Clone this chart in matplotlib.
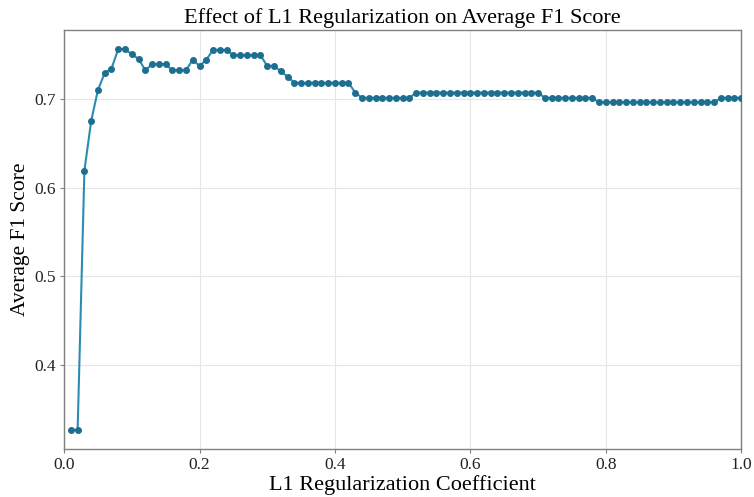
import matplotlib
matplotlib.use("Agg")
import matplotlib.pyplot as plt
import numpy as np

plt.rcParams['font.family'] = ['Liberation Serif', 'DejaVu Serif']

l1_coef = [round(0.01 * i, 2) for i in range(1, 101)]
avg_f1 = [
    0.327, 0.327, 0.619, 0.675, 0.710, 0.729, 0.734, 0.756, 0.756, 0.750,
    0.745, 0.732, 0.739, 0.739, 0.739, 0.732, 0.732, 0.732, 0.744, 0.737,
    0.744, 0.755, 0.755, 0.755, 0.749, 0.749, 0.749, 0.749, 0.749, 0.737,
    0.737, 0.731, 0.725, 0.718, 0.718, 0.718, 0.718, 0.718, 0.718, 0.718,
    0.718, 0.718, 0.707, 0.701, 0.701, 0.701, 0.701, 0.701, 0.701, 0.701,
    0.701, 0.707, 0.707, 0.707, 0.707, 0.707, 0.707, 0.707, 0.707, 0.707,
    0.707, 0.707, 0.707, 0.707, 0.707, 0.707, 0.707, 0.707, 0.707, 0.707,
    0.701, 0.701, 0.701, 0.701, 0.701, 0.701, 0.701, 0.701, 0.696, 0.696,
    0.696, 0.696, 0.696, 0.696, 0.696, 0.696, 0.696, 0.696, 0.696, 0.696,
    0.696, 0.696, 0.696, 0.696, 0.696, 0.696, 0.701, 0.701, 0.701, 0.701,
]

title = "Effect of L1 Regularization on Average F1 Score"
xlabel = "L1 Regularization Coefficient"
ylabel = "Average F1 Score"

fig = plt.figure(figsize=(7.54, 4.97), dpi=100)
ax = fig.add_axes([0.085, 0.0966, 0.898, 0.843])
ax.plot(l1_coef, avg_f1, color='#2b8cb3', linewidth=1.5, marker='o',
        markersize=4, markerfacecolor='#1d6f90', markeredgecolor='#1d6f90', zorder=3)
ax.set_xlim(0, 1.0)
ax.margins(y=0.05)
ax.set_yticks([0.4, 0.5, 0.6, 0.7])
ax.grid(True, color='#e6e6e6', linewidth=0.8)
ax.set_axisbelow(True)
for s in ax.spines.values():
    s.set_color('#808080')
    s.set_linewidth(1.0)
ax.tick_params(colors='#222222', labelsize=12.5, length=3, color='#808080', pad=3)
ax.set_title(title, fontsize=16, pad=5)
ax.set_xlabel(xlabel, fontsize=16, labelpad=1)
ax.set_ylabel(ylabel, fontsize=15.5, labelpad=3)
fig.savefig("out.png", dpi=100)
